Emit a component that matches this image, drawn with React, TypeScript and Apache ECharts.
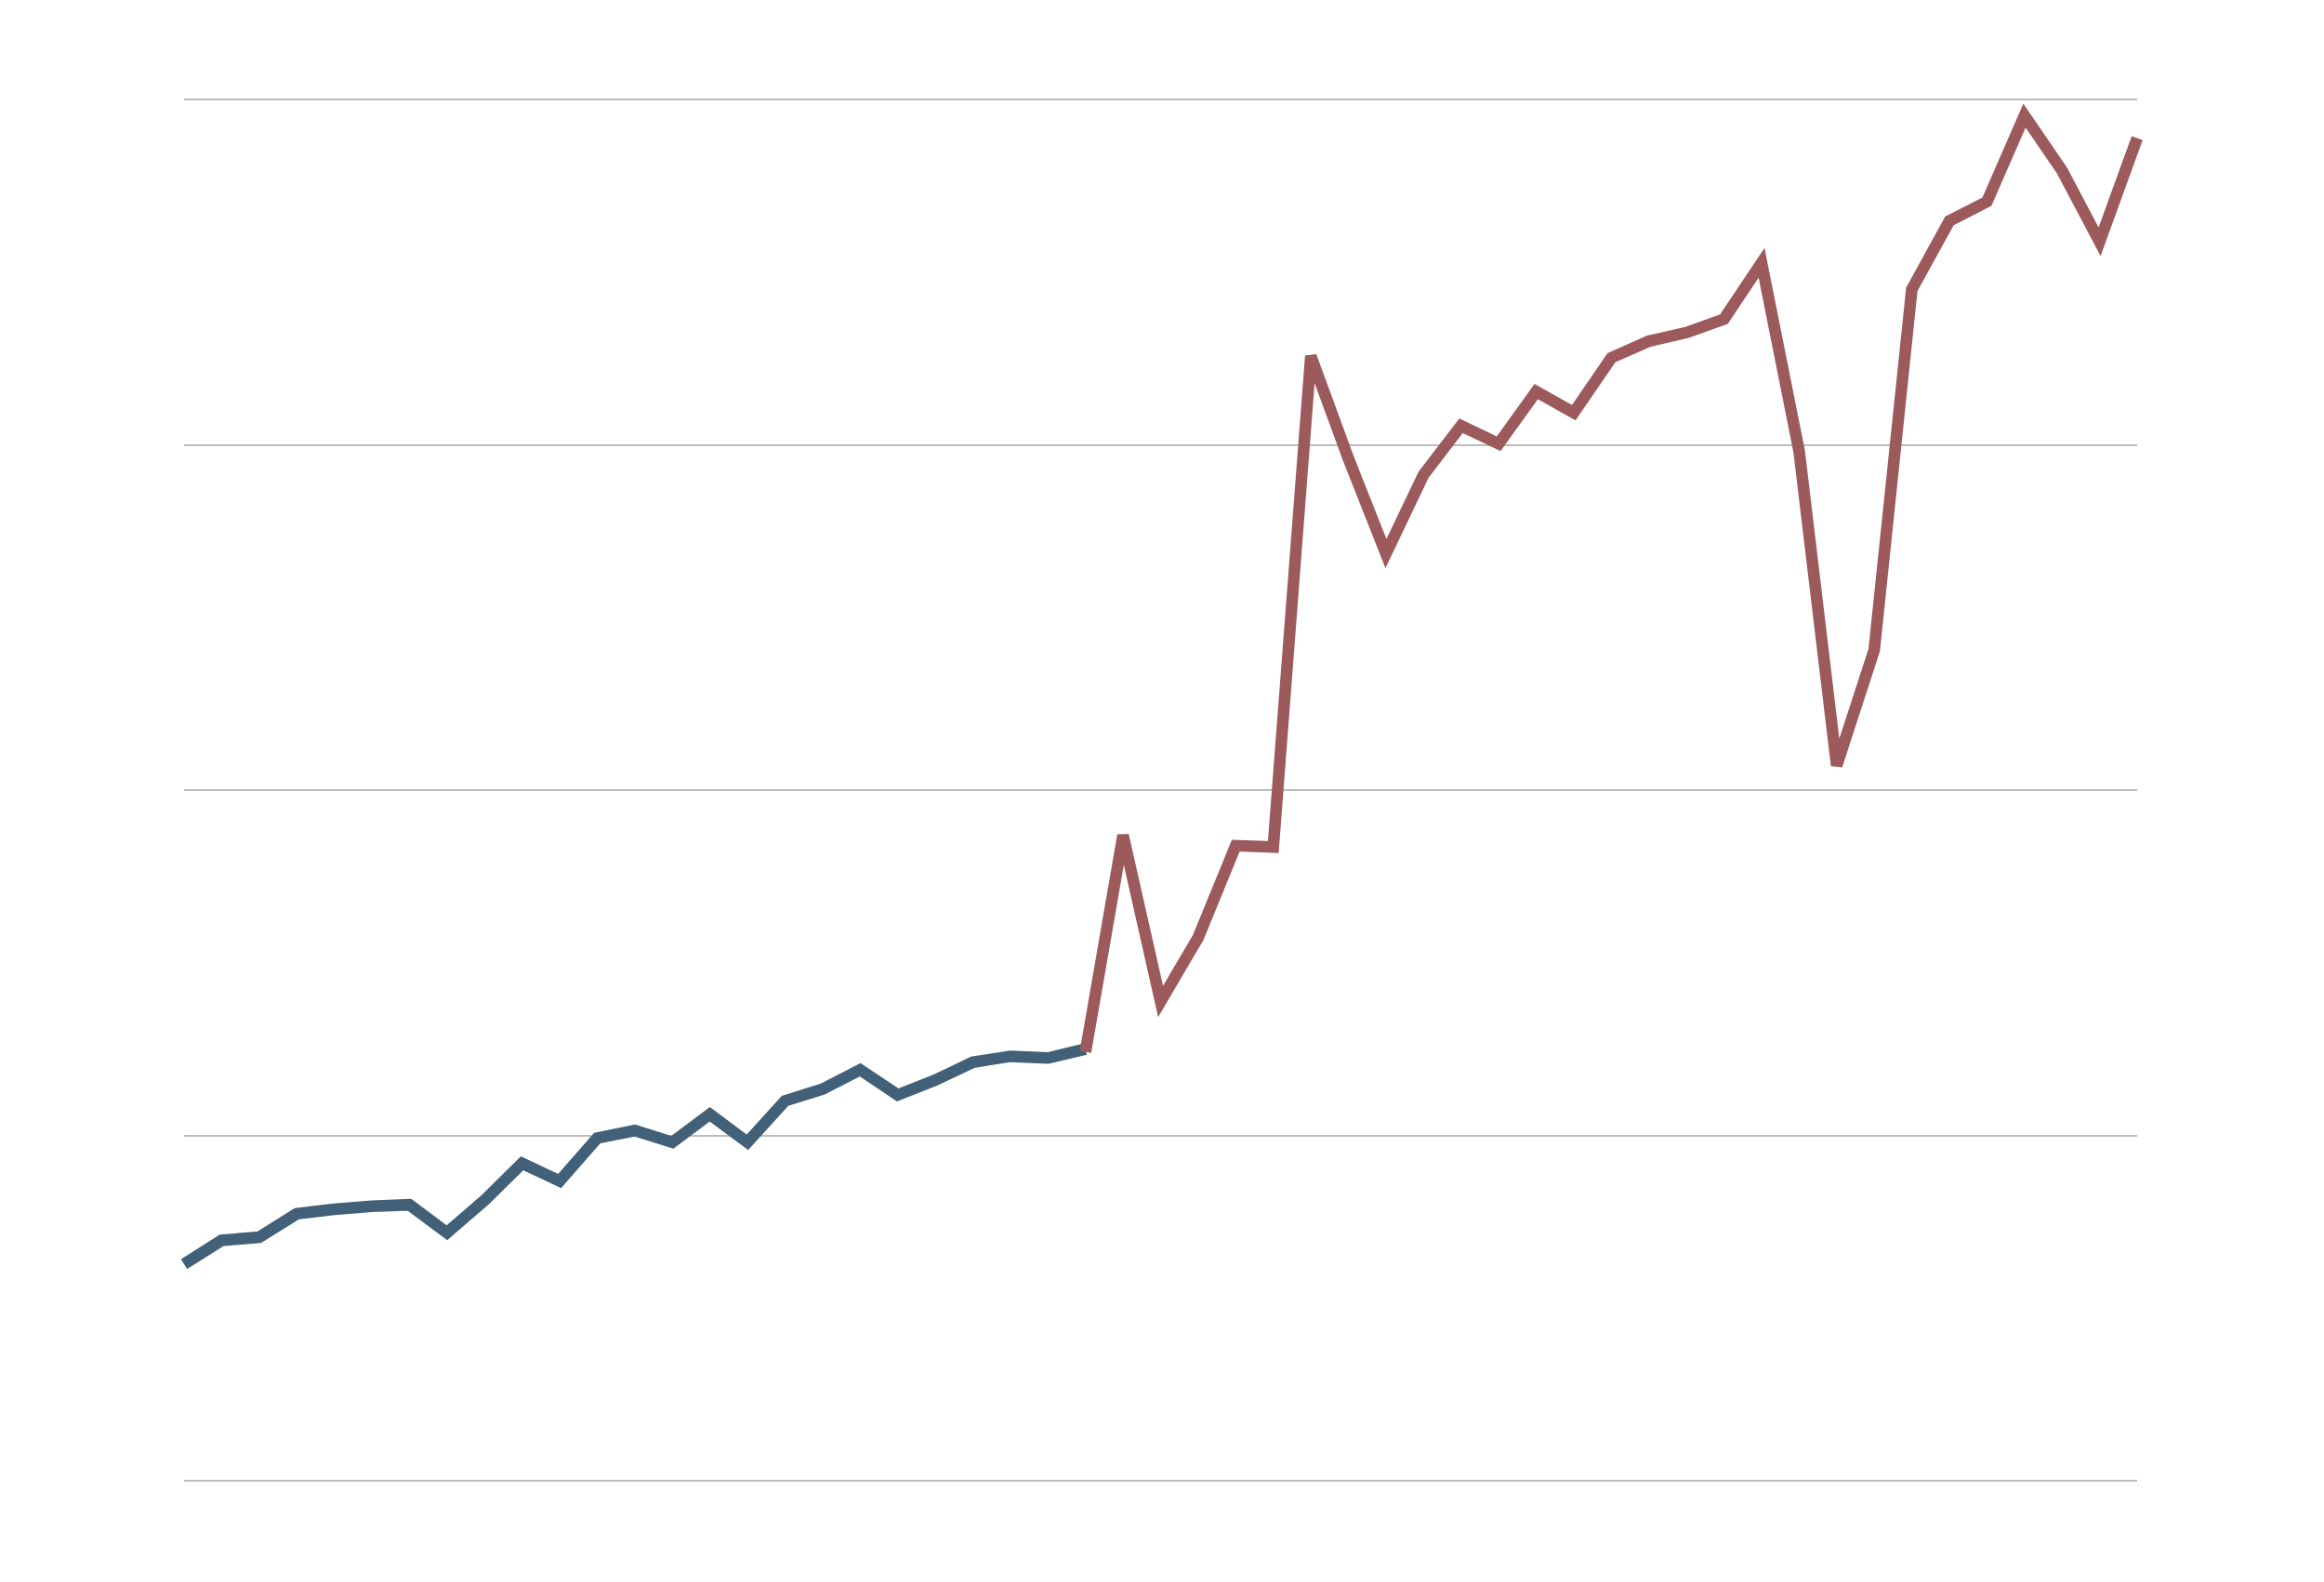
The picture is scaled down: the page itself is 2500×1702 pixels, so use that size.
import React, { useEffect, useRef } from "react";
import * as echarts from "echarts";

const categories: string[] = [
  "1", "2", "3", "4", "5", "6", "7", "8", "9", "10",
  "11", "12", "13", "14", "15", "16", "17", "18", "19", "20",
  "21", "22", "23", "24", "25", "26", "27", "28", "29", "30",
  "31", "32", "33", "34", "35", "36", "37", "38", "39", "40",
  "41", "42", "43", "44", "45", "46", "47", "48", "49", "50",
  "51", "52", "53",
];

const blueValues: number[] = [
  62.7, 69.6, 70.5, 77.3, 78.6, 79.5, 79.9, 71.8, 81.2, 91.9,
  86.8, 99.2, 101.4, 98.0, 106.1, 98.0, 110.0, 113.4, 119.0, 111.7,
  116.0, 121.2, 122.9, 122.4, 125.0,
];

const redValues: number[] = [
  124.2, 186.9, 138.8, 157.3, 183.9, 183.5, 325.7, 296.0, 268.5, 291.3,
  305.5, 300.3, 315.4, 309.3, 325.2, 330.0, 332.5, 336.4, 352.7, 298.2,
  207.1, 240.6, 345.0, 364.8, 370.4, 395.3, 379.4, 358.8, 388.8,
];

const redStartIndex = 24;

export default function App() {
  const ref = useRef<HTMLDivElement>(null);
  useEffect(() => {
    if (!ref.current) return;
    const chart = echarts.init(ref.current, null, { renderer: "svg" });
    const blueData = categories.map((_, i) => (i < blueValues.length ? blueValues[i] : null));
    const redData = categories.map((_, i) =>
      i >= redStartIndex && i - redStartIndex < redValues.length ? redValues[i - redStartIndex] : null
    );
    chart.setOption({
      animation: false,
      backgroundColor: "#ffffff",
      grid: { left: 198, right: 201, top: 107, bottom: 109 },
      xAxis: {
        type: "category",
        data: categories,
        boundaryGap: false,
        axisLine: { show: false },
        axisTick: { show: false },
        axisLabel: { show: false },
        splitLine: { show: false },
      },
      yAxis: {
        type: "value",
        min: 0,
        max: 400,
        interval: 100,
        axisLine: { show: false },
        axisTick: { show: false },
        axisLabel: { show: false },
        splitLine: { show: true, lineStyle: { color: "#bcbcbc", width: 2 } },
      },
      series: [
        {
          type: "line",
          data: blueData,
          showSymbol: false,
          symbol: "none",
          connectNulls: false,
          lineStyle: { color: "#436079", width: 12.5, join: "miter", cap: "butt" },
        },
        {
          type: "line",
          data: redData,
          showSymbol: false,
          symbol: "none",
          connectNulls: false,
          lineStyle: { color: "#9c5a5c", width: 12.5, join: "miter", cap: "butt" },
        },
      ],
    });
    return () => chart.dispose();
  }, []);
  return (
    <div
      ref={ref}
      style={{ position: "fixed", left: 0, top: 0, width: 2500, height: 1702, background: "#fff" }}
    />
  );
}
